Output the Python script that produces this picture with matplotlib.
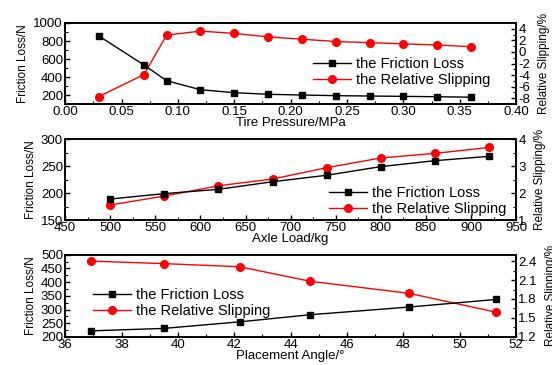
import numpy as np
import matplotlib.pyplot as plt
from matplotlib.ticker import AutoMinorLocator

plt.rcParams['font.family'] = ['Liberation Sans', 'DejaVu Sans']
plt.rcParams['axes.unicode_minus'] = False

# Tire pressure panel
pressure = [0.03, 0.07, 0.09, 0.12, 0.15, 0.18, 0.21, 0.24, 0.27, 0.30, 0.33, 0.36]
loss_p = [855, 533, 359, 259, 226, 208, 200, 193, 189, 185, 181, 176]
slip_p = [-7.7, -3.9, 2.9, 3.6, 3.2, 2.6, 2.2, 1.8, 1.6, 1.4, 1.2, 0.9]

# Axle load panel
load = [500, 560, 620, 680, 740, 800, 860, 920]
loss_l = [189, 199, 207, 221, 233, 249, 260, 268]
slip_l = [1.56, 1.89, 2.27, 2.52, 2.94, 3.30, 3.47, 3.69]

# Placement angle panel
angle = [36.9, 39.5, 42.2, 44.7, 48.2, 51.3]
loss_a = [222, 231, 255, 281, 309, 337]
slip_a = [2.40, 2.36, 2.31, 2.08, 1.89, 1.59]

fs = 9.5
afs = 8.5
lfs = 10.5
fig = plt.figure(figsize=(5.52, 3.65), dpi=100)
rects = [[0.118, 0.715, 0.817, 0.222],
         [0.118, 0.397, 0.817, 0.222],
         [0.118, 0.077, 0.817, 0.225]]

panels = [
    (pressure, loss_p, slip_p, 'Tire Pressure/MPa', (0, 0.40), (100, 1000), (-9, 5),
     np.arange(0, 0.41, 0.05), np.arange(200, 1001, 200), np.arange(-8, 5, 2), '%.2f', (0.965, 0.08)),
    (load, loss_l, slip_l, 'Axle Load/kg', (450, 950), (150, 300), (1, 4),
     np.arange(450, 951, 50), np.arange(150, 301, 50), np.arange(1, 5, 1), '%d', (1.0, -0.08)),
    (angle, loss_a, slip_a, 'Placement Angle/\u00b0', (36, 52), (200, 500), (1.2, 2.5),
     np.arange(36, 53, 2), np.arange(200, 501, 50), [1.2, 1.5, 1.8, 2.1, 2.4], '%d', None),
]

for rect, (x, l, s, xl, xlim, ylim, y2lim, xt, yt, y2t, xfmt, anchor) in zip(rects, panels):
    ax = fig.add_axes(rect)
    ax2 = ax.twinx()
    h1, = ax.plot(x, l, 'k-', marker='s', ms=4, lw=1, label='the Friction Loss')
    h2, = ax2.plot(x, s, '-', color='red', marker='o', ms=5.5, lw=1, label='the Relative Slipping')
    ax.set_xlim(*xlim)
    ax.set_ylim(*ylim)
    ax2.set_ylim(*y2lim)
    ax.set_xticks(xt)
    ax.set_xticklabels([xfmt % v for v in xt])
    ax.set_yticks(yt)
    ax2.set_yticks(y2t)
    if xl.startswith('Placement'):
        ax2.set_yticklabels(['%.1f' % v for v in y2t])
    ax.xaxis.set_minor_locator(AutoMinorLocator(2))
    ax.yaxis.set_minor_locator(AutoMinorLocator(2))
    ax2.yaxis.set_minor_locator(AutoMinorLocator(2))
    for a in (ax, ax2):
        a.tick_params(which='both', direction='in', labelsize=fs, pad=1.5)
        a.tick_params(which='major', length=3.5, width=1)
        a.tick_params(which='minor', length=2, width=0.8)
        for sp in a.spines.values():
            sp.set_linewidth(1.2)
    ax.set_xlabel(xl, fontsize=fs, labelpad=-1)
    ax.set_ylabel('Friction Loss/N', fontsize=afs, labelpad=3)
    ax2.set_ylabel('Relative Slipping/%', fontsize=afs, labelpad=6)
    if anchor is None:
        ax.legend([h1, h2], [h1.get_label(), h2.get_label()], loc='center left',
                  bbox_to_anchor=(0.04, 0.415), frameon=False, fontsize=lfs,
                  handlelength=2.6, borderpad=0.2, labelspacing=0.15, handletextpad=0.3)
    else:
        ax.legend([h1, h2], [h1.get_label(), h2.get_label()], loc='lower right',
                  bbox_to_anchor=anchor, frameon=False, fontsize=lfs,
                  handlelength=2.6, borderpad=0.2, labelspacing=0.15, handletextpad=0.3)
    ax2.set_zorder(ax.zorder - 1)
    ax.patch.set_visible(False)

fig.savefig('out.png', dpi=100)
